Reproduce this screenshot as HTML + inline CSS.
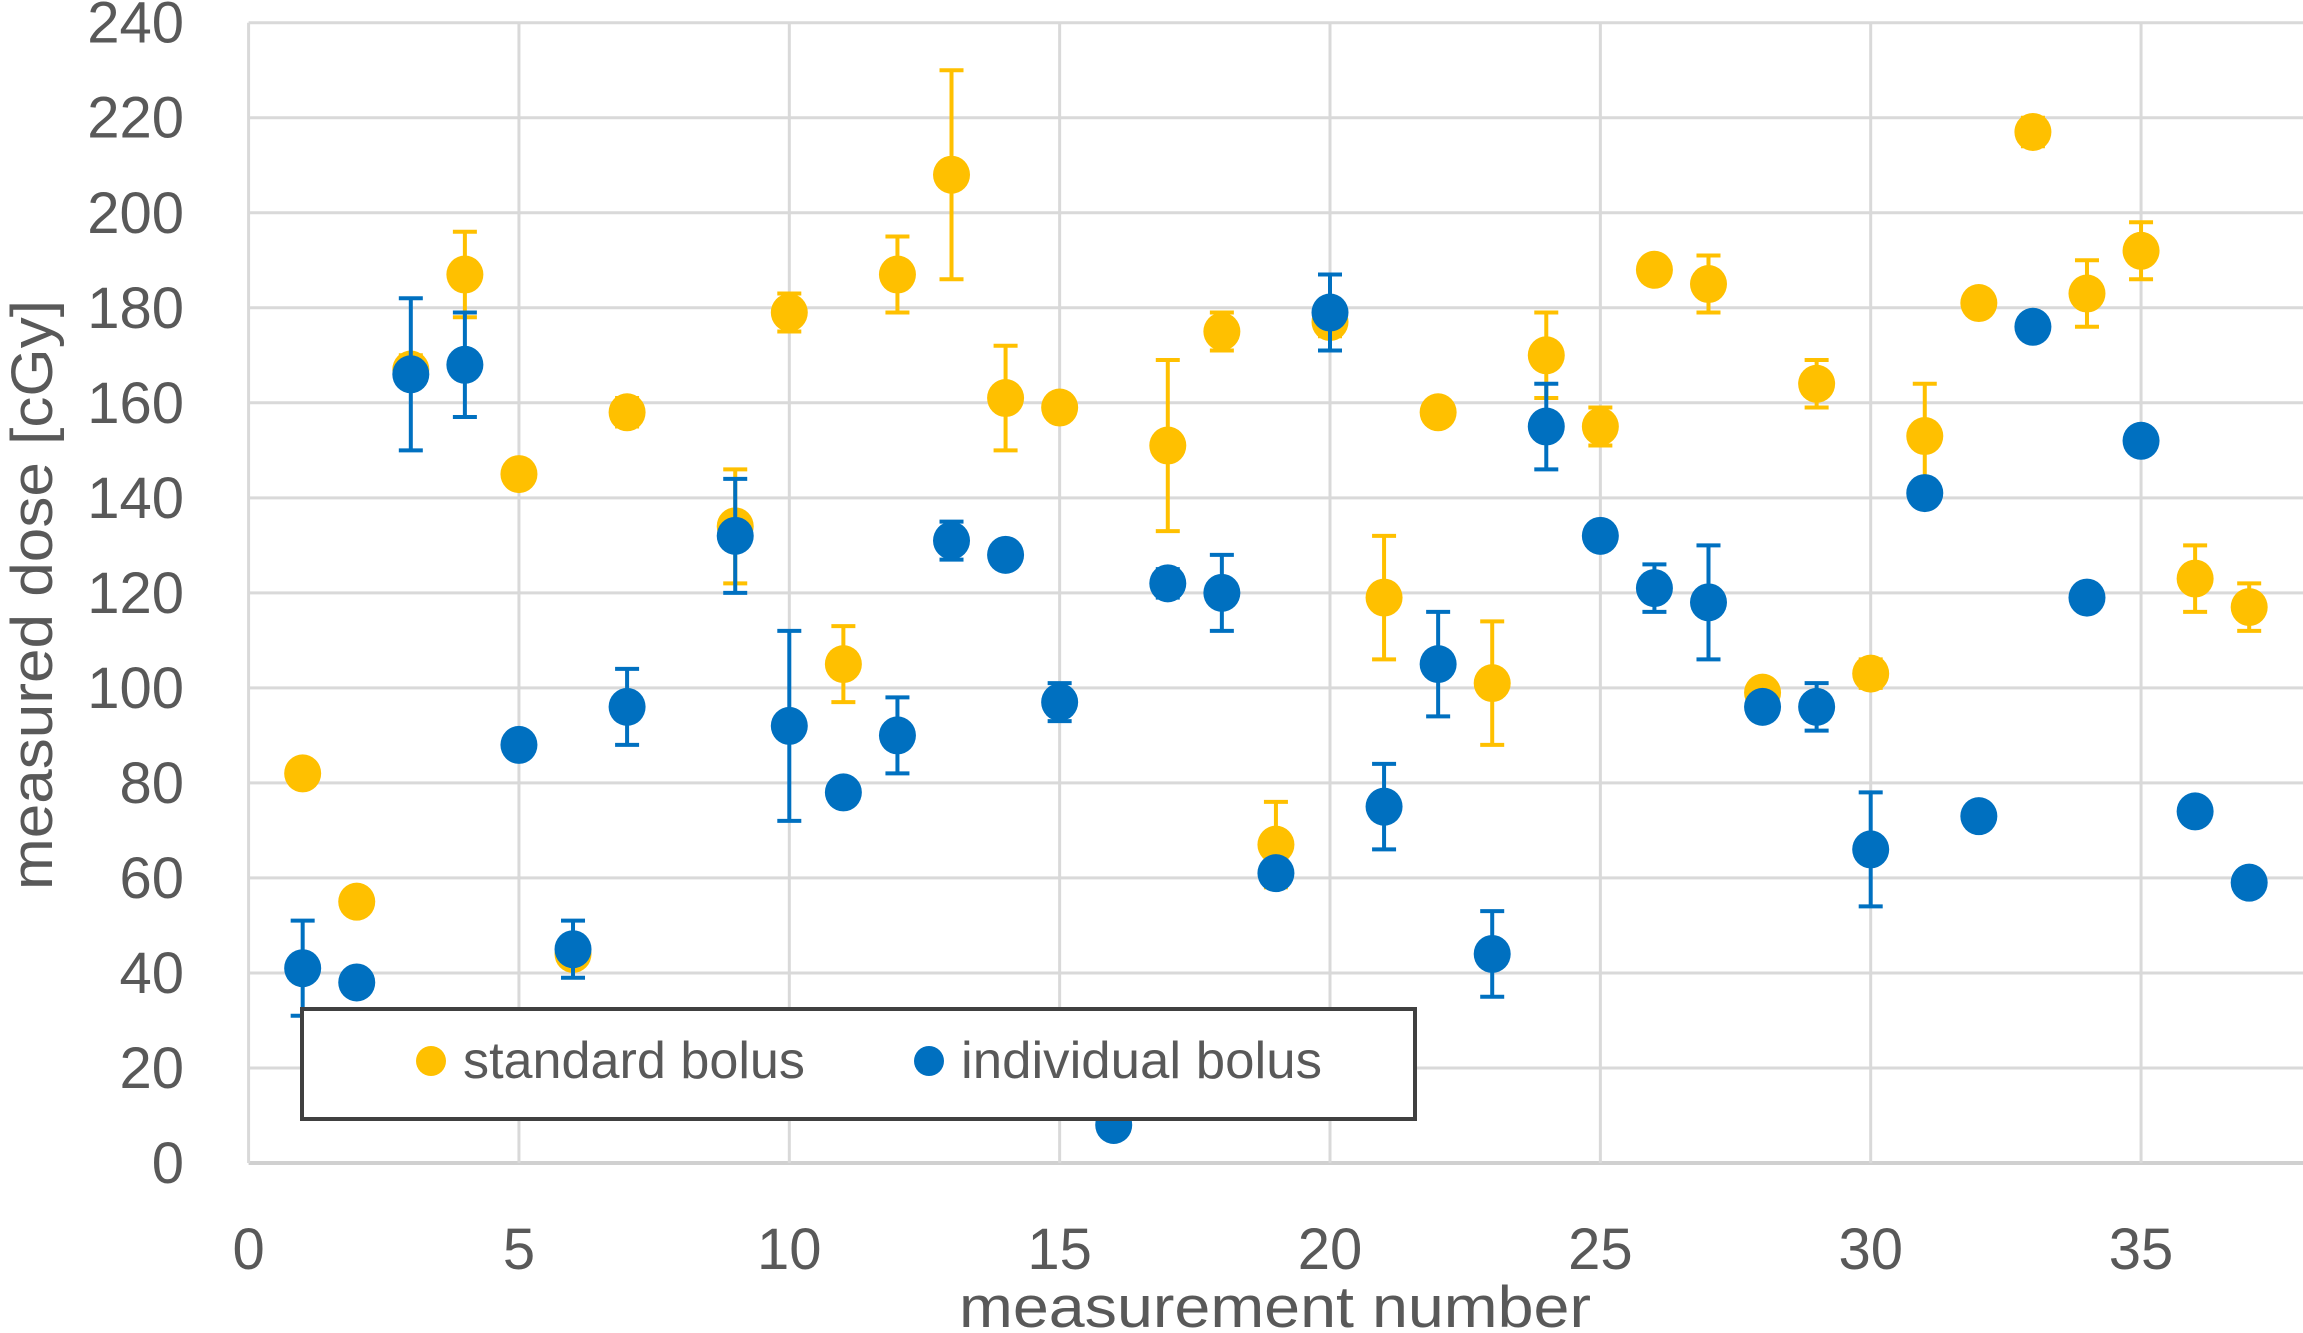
<!DOCTYPE html>
<html><head><meta charset="utf-8">
<style>
html,body{margin:0;padding:0;background:#fff;}
svg{display:block;font-family:"Liberation Sans",sans-serif;}
</style></head>
<body>
<svg id="chart" width="2303" height="1333" viewBox="0 0 2303 1333" xmlns="http://www.w3.org/2000/svg">
<rect x="0" y="0" width="2303" height="1333" fill="#fff"/>
<g id="grid"></g><g id="axes"></g><g id="series"></g><g id="legend"></g>
</svg>
<script>
const measurements = [1,2,3,4,5,6,7,9,10,11,12,13,14,15,17,18,19,20,21,22,23,24,25,26,27,28,29,30,31,32,33,34,35,36,37];
const standardValues = [82,55,167,187,145,44,158,134,179,105,187,208,161,159,151,175,67,177,119,158,101,170,155,188,185,99,164,103,153,181,217,183,192,123,117];
const standardErrors = [1,1,3,9,1,2,3,12,4,8,8,22,11,1,18,4,9,3,13,2,13,9,4,1,6,1,5,3,11,1,3,7,6,7,5];
const individualX = [1,2,3,4,5,6,7,9,10,11,12,13,14,15,16,17,18,19,20,21,22,23,24,25,26,27,28,29,30,31,32,33,34,35,36,37];
const individualValues = [41,38,166,168,88,45,96,132,92,78,90,131,128,97,8,122,120,61,179,75,105,44,155,132,121,118,96,96,66,141,73,176,119,152,74,59];
const individualErrors = [10,1,16,11,1,6,8,12,20,1,8,4,1,4,1,3,8,2,8,9,11,9,9,1,5,12,1,5,12,1,1,1,1,1,1,1];
const yTicks = [0,20,40,60,80,100,120,140,160,180,200,220,240];
const xTicks = [0,5,10,15,20,25,30,35];

const NS="http://www.w3.org/2000/svg";
const X0=248.6, XS=54.07, Y0=1163, YT=22.7;
const xp=v=>X0+v*XS;
const yp=v=>Y0-(v/240)*(Y0-YT);
function mk(tag,attrs,parent){const e=document.createElementNS(NS,tag);for(const k in attrs)e.setAttribute(k,attrs[k]);parent.appendChild(e);return e;}
const grid=document.getElementById('grid'),axes=document.getElementById('axes'),series=document.getElementById('series'),legend=document.getElementById('legend');

yTicks.forEach(t=>{
  const l=mk('line',{x1:X0,x2:2303,y1:yp(t),y2:yp(t),stroke:t===0?'#d0d0d0':'#d9d9d9','stroke-width':t===0?4:3},grid);
  
  
  const tx=mk('text',{x:184,y:yp(t)+20,'text-anchor':'end','font-size':58,fill:'#595959'},axes);
  tx.textContent=t;
  
  
});
xTicks.forEach(t=>{
  const l=mk('line',{x1:xp(t),x2:xp(t),y1:YT,y2:Y0,stroke:'#d9d9d9','stroke-width':3},grid);
  
  
  const tx=mk('text',{x:xp(t),y:1269,'text-anchor':'middle','font-size':58,fill:'#595959'},axes);
  tx.textContent=t;
  
  
});
let t1=mk('text',{x:0,y:0,'text-anchor':'middle','font-size':58,fill:'#595959',transform:'translate(52,595) rotate(-90)',textLength:590,lengthAdjust:'spacingAndGlyphs'},axes);
t1.textContent='measured dose [cGy]';


let t2=mk('text',{x:1275,y:1327,'text-anchor':'middle','font-size':58,fill:'#595959',textLength:632,lengthAdjust:'spacingAndGlyphs'},axes);
t2.textContent='measurement number';



function drawSeries(xs,vals,errs,color,name){
  const g=mk('g',{},series);
  
  
  xs.forEach((x,i)=>{
    const cx=xp(x),cy=yp(vals[i]),yh=yp(vals[i]+errs[i]),yl=yp(vals[i]-errs[i]);
    const eb=mk('path',{d:`M${cx},${yh}V${yl}M${cx-12},${yh}H${cx+12}M${cx-12},${yl}H${cx+12}`,stroke:color,'stroke-width':4,fill:'none'},g);
    
    
    const c=mk('ellipse',{cx:cx,cy:cy,rx:18.5,ry:19,fill:color},g);
    
    
  });
}
drawSeries(measurements,standardValues,standardErrors,'#FFC000','standard-bolus');
drawSeries(individualX,individualValues,individualErrors,'#0070C0','individual-bolus');

const lb=mk('rect',{x:302,y:1009,width:1113,height:110,fill:'#fff',stroke:'#404040','stroke-width':4},legend);


const m1=mk('ellipse',{cx:431,cy:1061,rx:15,ry:15,fill:'#FFC000'},legend);


const l1=mk('text',{x:463,y:1078,'font-size':52,fill:'#595959',textLength:342,lengthAdjust:'spacingAndGlyphs'},legend);
l1.textContent='standard bolus';


const m2=mk('ellipse',{cx:929,cy:1061,rx:15,ry:15,fill:'#0070C0'},legend);


const l2=mk('text',{x:961,y:1078,'font-size':52,fill:'#595959',textLength:361,lengthAdjust:'spacingAndGlyphs'},legend);
l2.textContent='individual bolus';


</script>
</body></html>
